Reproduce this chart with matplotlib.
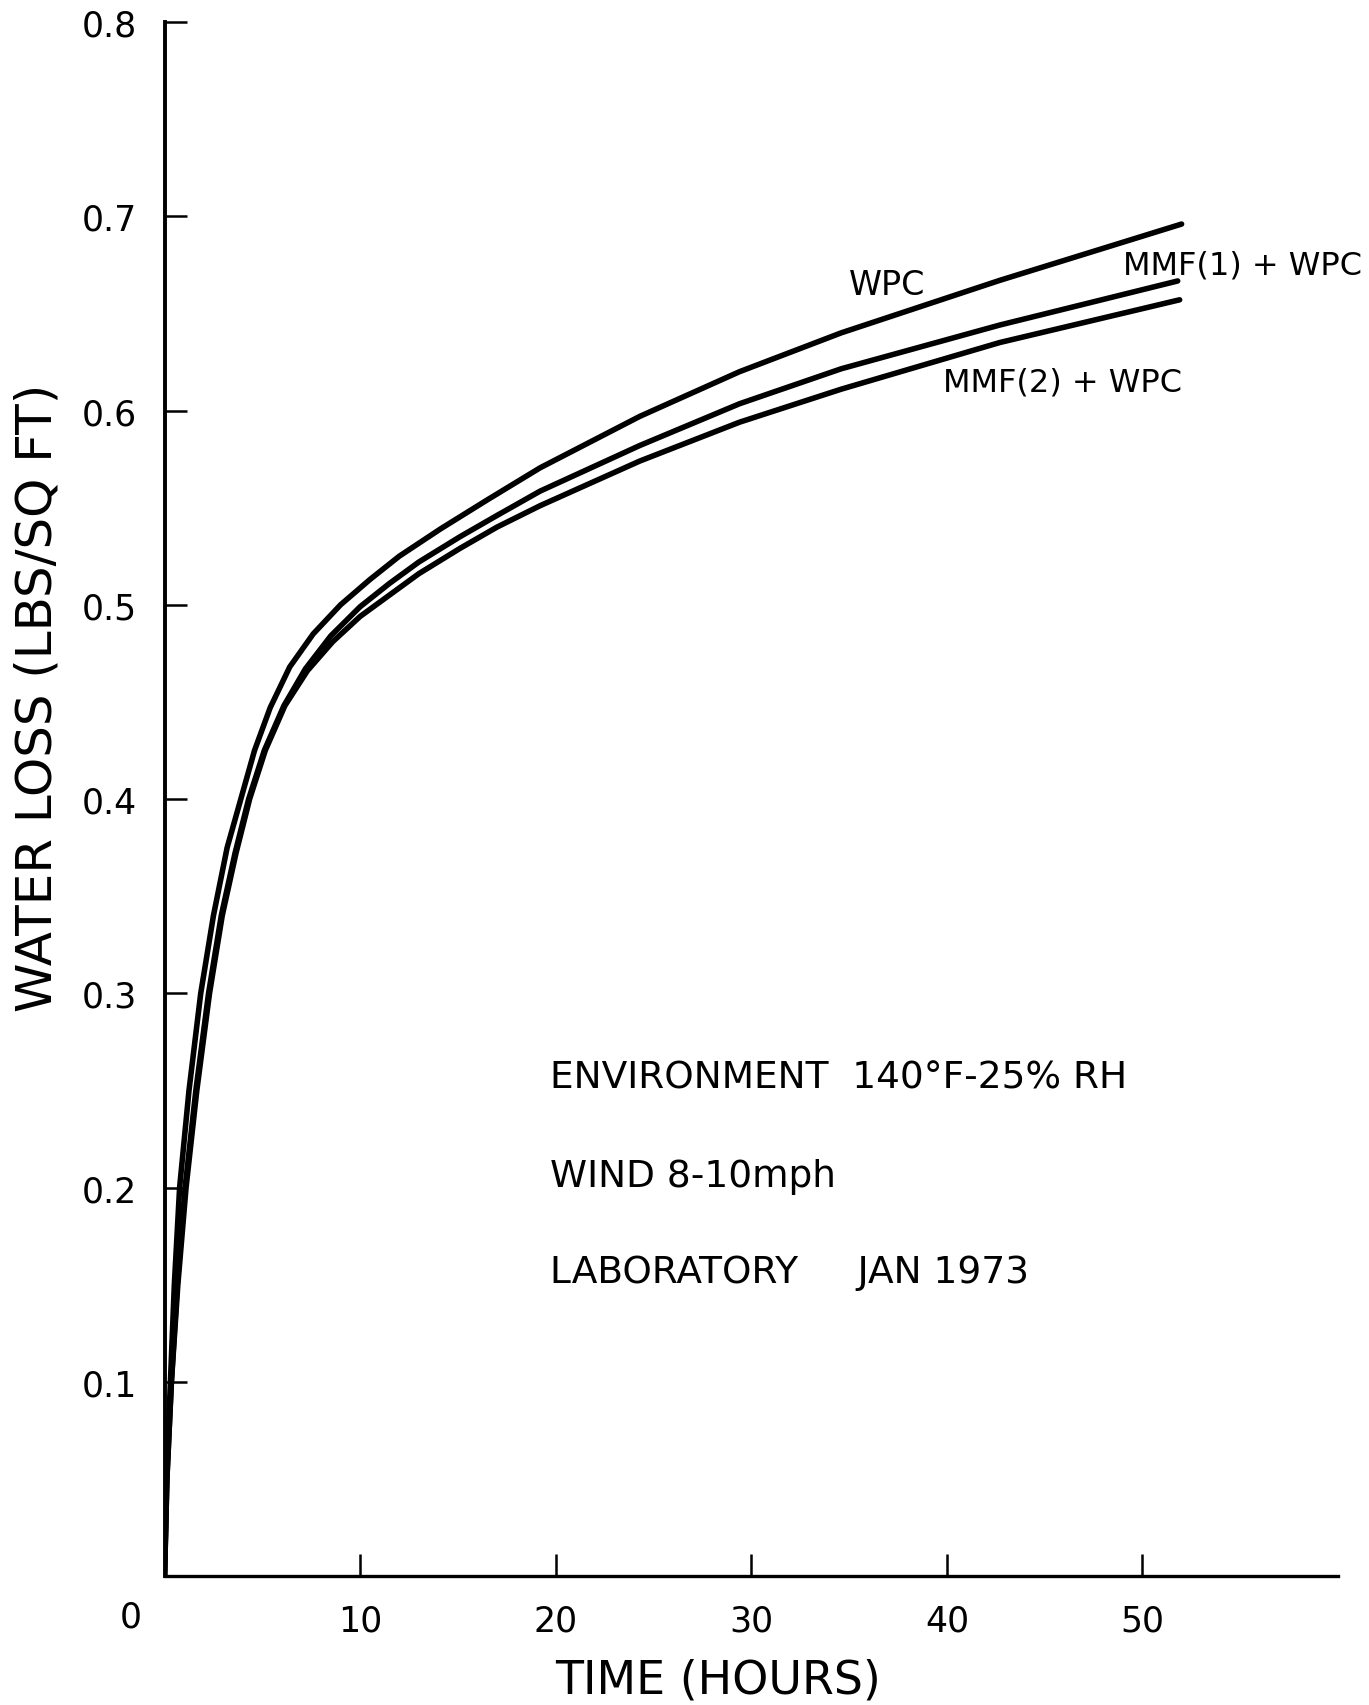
import matplotlib
matplotlib.use("Agg")
import matplotlib.pyplot as plt

# ---- data ----
wpc_x = [0.0, 0.1, 0.3, 0.5, 0.77, 1.25, 1.85, 2.5, 3.2, 3.9, 4.6, 5.4, 6.4, 7.6, 9.0, 10.5, 12.0, 14.1, 16.5, 19.2, 24.3, 29.4, 34.6, 42.7, 52.0]
wpc_y = [0.0, 0.05, 0.1, 0.15, 0.2, 0.25, 0.3, 0.34, 0.375, 0.40, 0.425, 0.447, 0.468, 0.485, 0.500, 0.513, 0.525, 0.539, 0.554, 0.5705, 0.597, 0.620, 0.640, 0.667, 0.696]

mmf1_x = [0.0, 0.12, 0.35, 0.65, 1.05, 1.6, 2.25, 2.9, 3.6, 4.3, 5.1, 6.1, 7.2, 8.5, 10.0, 11.5, 13.0, 15.1, 17.0, 19.2, 24.3, 29.4, 34.6, 42.7, 51.8]
mmf1_y = [0.0, 0.05, 0.1, 0.15, 0.2, 0.25, 0.3, 0.34, 0.372, 0.40, 0.425, 0.448, 0.467, 0.484, 0.499, 0.511, 0.522, 0.535, 0.546, 0.5585, 0.582, 0.6035, 0.6215, 0.644, 0.6667]

mmf2_x = [0.0, 0.12, 0.35, 0.68, 1.1, 1.65, 2.3, 2.95, 3.65, 4.35, 5.15, 6.15, 7.3, 8.6, 10.0, 11.5, 13.0, 15.1, 17.0, 19.2, 24.3, 29.4, 34.6, 42.7, 51.9]
mmf2_y = [0.0, 0.05, 0.1, 0.15, 0.2, 0.25, 0.3, 0.34, 0.372, 0.40, 0.425, 0.448, 0.466, 0.481, 0.494, 0.505, 0.516, 0.529, 0.540, 0.551, 0.574, 0.594, 0.611, 0.635, 0.657]

x_ticks = [10, 20, 30, 40, 50]
y_ticks = [0.1, 0.2, 0.3, 0.4, 0.5, 0.6, 0.7, 0.8]
y_ticklabels = ["0.1", "0.2", "0.3", "0.4", "0.5", "0.6", "0.7", "0.8"]

plt.rcParams['font.family'] = ['DejaVu Sans']

fig = plt.figure(figsize=(13.69, 17.06), dpi=100)
ax = fig.add_axes([0.1202, 0.0756, 0.9774 - 0.1202, 0.9865 - 0.0756])

for xs, ys in [(wpc_x, wpc_y), (mmf1_x, mmf1_y), (mmf2_x, mmf2_y)]:
    ax.plot(xs, ys, color='black', lw=4.0, solid_capstyle='round', solid_joinstyle='round')

ax.set_xlim(0, 60)
ax.set_ylim(0, 0.8)
ax.spines['top'].set_visible(False)
ax.spines['right'].set_visible(False)
ax.spines['left'].set_linewidth(2.8)
ax.spines['bottom'].set_linewidth(2.4)

ax.set_xticks(x_ticks)
ax.set_xticklabels([str(v) for v in x_ticks])
ax.set_yticks(y_ticks)
ax.set_yticklabels(y_ticklabels)
ax.tick_params(axis='both', direction='in', length=16, width=1.8, labelsize=25, color='black')
ax.tick_params(axis='x', pad=20)
ax.tick_params(axis='y', pad=20)

# origin "0" label, set left of the axis
ax.annotate("0", xy=(0, 0), xycoords='data', xytext=(-24, -29), textcoords='offset points',
            ha='center', va='center', fontsize=25)

ax.set_xlabel("TIME (HOURS)", fontsize=33)
ax.xaxis.label.set_va('center')
ax.xaxis.set_label_coords(0.472, -0.067)
ax.set_ylabel("WATER LOSS (LBS/SQ FT)", fontsize=36)
ax.yaxis.set_label_coords(-0.088, 0.566)

ax.text(35.0, 0.665, "WPC", fontsize=24, ha='left', va='center')
ax.text(49.0, 0.675, "MMF(1) + WPC", fontsize=23, ha='left', va='center')
ax.text(39.8, 0.6145, "MMF(2) + WPC", fontsize=23, ha='left', va='center')

ax.text(19.7, 0.2565, "ENVIRONMENT  140°F-25% RH", fontsize=27, ha='left', va='center')
ax.text(19.7, 0.206, "WIND 8-10mph", fontsize=27, ha='left', va='center')
ax.text(19.7, 0.1565, "LABORATORY     JAN 1973", fontsize=27, ha='left', va='center')

fig.savefig("out.png", dpi=100, facecolor='white')
